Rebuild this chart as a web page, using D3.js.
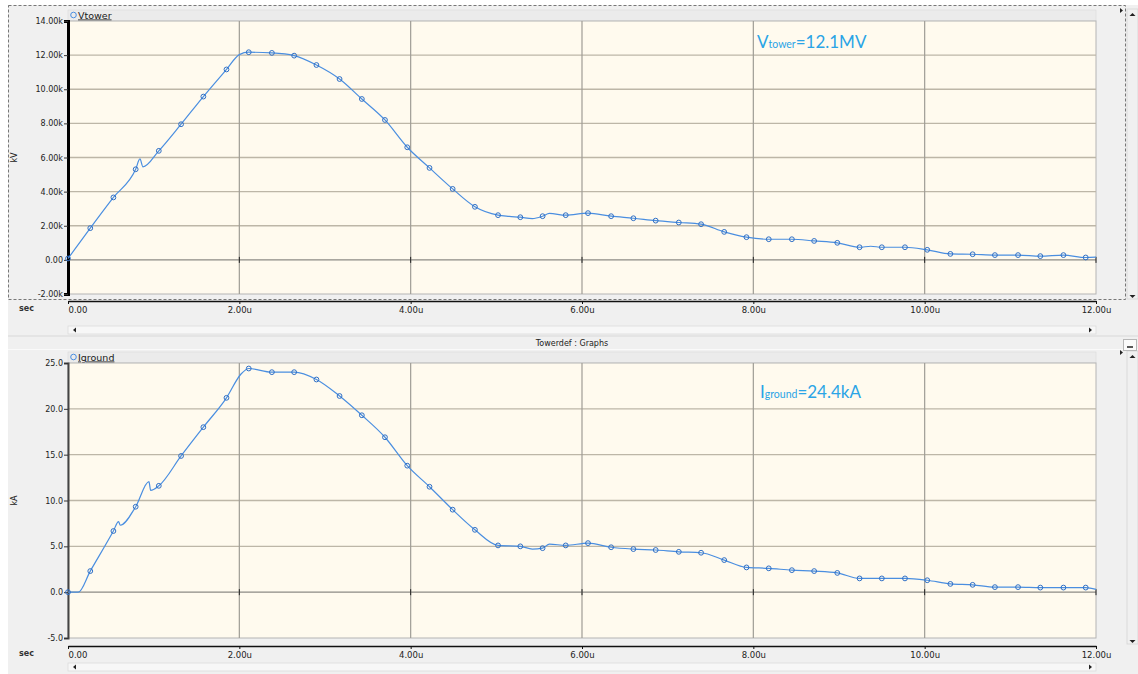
<!DOCTYPE html>
<html>
<head>
<meta charset="utf-8">
<script src="https://cdn.jsdelivr.net/npm/d3@7"></script>
<style>
  html, body { margin: 0; padding: 0; background: #ffffff; }
  svg { display: block; }
</style>
</head>
<body>
<div class="graph"></div>
<script>
// time of each marker (us), same for both traces
const markerT = [0, 0.26, 0.53, 0.79, 1.06, 1.32, 1.58, 1.85, 2.11, 2.38, 2.64, 2.90, 3.17, 3.43, 3.70, 3.96,
  4.22, 4.49, 4.75, 5.02, 5.28, 5.54, 5.81, 6.07, 6.34, 6.60, 6.86, 7.13, 7.39, 7.66, 7.92, 8.18, 8.45,
  8.71, 8.98, 9.24, 9.50, 9.77, 10.03, 10.30, 10.56, 10.82, 11.09, 11.35, 11.62, 11.88]

// Vtower, in k(kV)
const vtowerMarks = [0.08, 1.86, 3.66, 5.31, 6.39, 7.95, 9.57, 11.16, 12.17, 12.13, 11.97, 11.42, 10.60, 9.43,
  8.20, 6.60, 5.39, 4.16, 3.11, 2.62, 2.50, 2.56, 2.62, 2.74, 2.56, 2.44, 2.30, 2.19, 2.09, 1.64, 1.33,
  1.21, 1.21, 1.11, 1.00, 0.74, 0.74, 0.74, 0.59, 0.35, 0.33, 0.28, 0.28, 0.22, 0.28, 0.14]
// extra points of the trace between markers (glitch, corners)
const vtowerExtraT = [0.84, 0.875, 2.0, 5.15, 5.42, 5.62, 9.37, 12.0]
const vtowerExtraV = [5.92, 5.45, 12.03, 2.55, 2.42, 2.72, 0.80, 0.16]

// Iground, in kA
const igroundMarks = [0.0, 2.3, 6.67, 9.32, 11.6, 14.86, 18.0, 21.2, 24.4, 24.0, 24.0, 23.2, 21.4, 19.3, 16.9,
  13.8, 11.5, 9.0, 6.8, 5.1, 5.0, 4.8, 5.1, 5.35, 4.9, 4.7, 4.6, 4.4, 4.3, 3.5, 2.7, 2.6, 2.4, 2.3,
  2.1, 1.5, 1.5, 1.5, 1.3, 0.9, 0.8, 0.55, 0.55, 0.5, 0.5, 0.5]
const igroundExtraT = [0.12, 0.59, 0.61, 0.945, 0.965, 2.02, 5.42, 5.62, 12.0]
const igroundExtraV = [0.0, 7.7, 7.3, 12.05, 11.1, 23.8, 4.7, 5.25, 0.3]

const xTicks = [0, 2, 4, 6, 8, 10, 12]
const xTickLabels = ["0.00", "2.00u", "4.00u", "6.00u", "8.00u", "10.00u", "12.00u"]
const vTicks = [-2, 0, 2, 4, 6, 8, 10, 12, 14]
const vTickLabels = ["-2.00k", "0.00", "2.00k", "4.00k", "6.00k", "8.00k", "10.00k", "12.00k", "14.00k"]
const iTicks = [-5, 0, 5, 10, 15, 20, 25]
const iTickLabels = ["-5.0", "0.0", "5.0", "10.0", "15.0", "20.0", "25.0"]

const width = 1138
const height = 674
const traceColor = "#4a8ee0"
const markColor = "#2f6fc6"
const noteColor = "#2aa4e6"
const uiFont = "DejaVu Sans, Verdana, sans-serif"

const svg = d3.select(".graph").append("svg")
  .attr("width", width)
  .attr("height", height)

// window chrome
svg.append("rect").attr("x", 8).attr("y", 5).attr("width", width - 8).attr("height", height - 5)
  .attr("fill", "#f0f0f0")

function buildPoints(marks, exT, exV) {
  let pts = markerT.map((t, i) => ({t: t, v: marks[i]}))
  exT.forEach((t, i) => pts.push({t: t, v: exV[i]}))
  return pts.sort((a, b) => a.t - b.t)
}

function panel(cfg) {
  const left = 68, right = 1096
  const x = d3.scaleLinear().domain([0, 12]).range([left, right])
  const y = d3.scaleLinear().domain(cfg.domain).range([cfg.bottom, cfg.top])
  const g = svg.append("g")

  // legend strip
  g.append("rect").attr("x", left).attr("y", cfg.top - 11).attr("width", right - left).attr("height", 11)
    .attr("fill", "#ebebeb").attr("stroke", "#dadada").attr("stroke-width", 0.6)
  g.append("circle").attr("cx", left + 5.5).attr("cy", cfg.top - 6).attr("r", 2.8)
    .attr("fill", "none").attr("stroke", traceColor).attr("stroke-width", 1)
  g.append("text").attr("x", left + 10).attr("y", cfg.top - 2.5)
    .attr("font-family", uiFont).attr("font-size", 9.5).attr("fill", "#1a1a1a")
    .attr("text-decoration", "underline")
    .text(cfg.name)

  // plot area
  g.append("rect").attr("x", left).attr("y", cfg.top).attr("width", right - left).attr("height", cfg.bottom - cfg.top)
    .attr("fill", "#fffaee").attr("stroke", "#b4b4b4").attr("stroke-width", 1)

  // grid
  g.append("g").selectAll("line").data(cfg.ticks.filter(d => d !== cfg.domain[0] && d !== cfg.domain[1]))
    .join("line")
    .attr("x1", left).attr("x2", right)
    .attr("y1", d => y(d)).attr("y2", d => y(d))
    .attr("stroke", d => d === 0 ? "#8c8a84" : "#bdb6a7").attr("stroke-width", 1.3)
  g.append("g").selectAll("line").data(xTicks.slice(1, -1))
    .join("line")
    .attr("x1", d => x(d)).attr("x2", d => x(d))
    .attr("y1", cfg.top).attr("y2", cfg.bottom)
    .attr("stroke", "#9f9c95").attr("stroke-width", 1.2)
  // small ticks along the zero line
  g.append("g").selectAll("line").data(xTicks.slice(1))
    .join("line")
    .attr("x1", d => x(d)).attr("x2", d => x(d))
    .attr("y1", y(0) - 3).attr("y2", y(0) + 3)
    .attr("stroke", "#222").attr("stroke-width", 1)

  // y axis
  const yAxis = d3.axisLeft(y).tickValues(cfg.ticks).tickSize(4)
    .tickFormat((d, i) => cfg.tickLabels[i])
  g.append("g").attr("transform", `translate(${left},0)`).call(yAxis)
    .call(a => a.select(".domain").attr("stroke", cfg.axisColor).attr("stroke-width", cfg.axisWidth))
    .call(a => a.selectAll(".tick line").attr("stroke", "#333"))
    .call(a => a.selectAll("text").attr("font-family", uiFont).attr("font-size", 8).attr("fill", "#222")
      .attr("x", -5))
  g.append("text")
    .attr("transform", `translate(17,${(cfg.top + cfg.bottom) / 2}) rotate(-90)`)
    .attr("text-anchor", "middle")
    .attr("font-family", uiFont).attr("font-size", 8).attr("fill", "#222")
    .text(cfg.unit)

  // x axis
  const xAxis = d3.axisBottom(x).tickValues(xTicks).tickSize(3).tickSizeOuter(0)
    .tickFormat((d, i) => xTickLabels[i])
  g.append("g").attr("transform", `translate(0,${cfg.xAxisY})`).call(xAxis)
    .call(a => a.select(".domain").attr("stroke", "#111").attr("stroke-width", 1.5))
    .call(a => a.selectAll(".tick line").attr("stroke", "#111"))
    .call(a => a.selectAll("text").attr("font-family", uiFont).attr("font-size", 8.5).attr("fill", "#222")
      .attr("y", 6))
    .call(a => a.selectAll("text").filter(d => d === 0).attr("text-anchor", "start").attr("dx", 0))
  g.append("text").attr("x", 19).attr("y", cfg.xAxisY + 10)
    .attr("font-family", uiFont).attr("font-size", 8).attr("font-weight", "bold").attr("fill", "#333")
    .text("sec")

  // trace
  const pts = buildPoints(cfg.marks, cfg.exT, cfg.exV)
  const line = d3.line().x(d => x(d.t)).y(d => y(d.v)).curve(d3.curveMonotoneX)
  g.append("path").datum(pts)
    .attr("fill", "none").attr("stroke", traceColor).attr("stroke-width", 1.2)
    .attr("d", line)
  g.append("g").selectAll("circle").data(markerT)
    .join("circle")
    .attr("cx", d => x(d)).attr("cy", (d, i) => y(cfg.marks[i]))
    .attr("r", 2.4)
    .attr("fill", "none").attr("stroke", markColor).attr("stroke-width", 1)

  // annotation
  const note = g.append("text").attr("x", cfg.noteX).attr("y", cfg.noteY)
    .attr("font-family", "Lato, 'Open Sans', sans-serif").attr("fill", noteColor)
  note.append("tspan").attr("font-size", 17).text(cfg.noteMain)
  note.append("tspan").attr("font-size", 10.5).text(cfg.noteSub)
  note.append("tspan").attr("font-size", 17).text(cfg.noteValue)

  // horizontal scrollbar
  const sy = cfg.scrollY
  g.append("rect").attr("x", left).attr("y", sy).attr("width", right - left).attr("height", 8)
    .attr("fill", "#f7f7f7").attr("stroke", "#dcdcdc").attr("stroke-width", 0.8)
  g.append("path").attr("d", `M${left + 5},${sy + 4} l3,-2.5 v5 z`).attr("fill", "#222")
  g.append("path").attr("d", `M${right - 7},${sy + 1.5} l3,2.5 l-3,2.5 z`).attr("fill", "#222")

  // vertical scrollbar
  g.append("rect").attr("x", 1127).attr("y", cfg.top - 12).attr("width", 11).attr("height", cfg.xAxisY - cfg.top + 10)
    .attr("fill", "#f0f0f0").attr("stroke", "#d4d4d4").attr("stroke-width", 0.8)
  g.append("path").attr("d", `M1129.5,${cfg.top - 5} l3,-3 l3,3 z`).attr("fill", "#222")
  g.append("path").attr("d", `M1129.5,${cfg.xAxisY - 6} l3,3 l3,-3 z`).attr("fill", "#222")
  g.append("path").attr("d", `M1120,${cfg.top - 13} l3,2.5 l-3,2.5 z`).attr("fill", "#222")
}

panel({
  name: "Vtower", unit: "kV", domain: [-2, 14], top: 21, bottom: 294, xAxisY: 301,
  ticks: vTicks, tickLabels: vTickLabels, marks: vtowerMarks, exT: vtowerExtraT, exV: vtowerExtraV,
  axisColor: "#000", axisWidth: 3, scrollY: 326,
  noteX: 757, noteY: 48, noteMain: "V", noteSub: "tower", noteValue: "=12.1MV"
})

panel({
  name: "Iground", unit: "kA", domain: [-5, 25], top: 363, bottom: 638, xAxisY: 646,
  ticks: iTicks, tickLabels: iTickLabels, marks: igroundMarks, exT: igroundExtraT, exV: igroundExtraV,
  axisColor: "#444", axisWidth: 2, scrollY: 663,
  noteX: 760, noteY: 398, noteMain: "I", noteSub: "ground", noteValue: "=24.4kA"
})

// dashed frame of the active graph
svg.append("rect").attr("x", 8.5).attr("y", 5.5).attr("width", 1117).attr("height", 294)
  .attr("fill", "none").attr("stroke", "#777").attr("stroke-width", 1).attr("stroke-dasharray", "3,2")

// title bar between the graphs
svg.append("line").attr("x1", 8).attr("x2", width).attr("y1", 336).attr("y2", 336)
  .attr("stroke", "#d8d8d8")
svg.append("line").attr("x1", 8).attr("x2", width).attr("y1", 349.5).attr("y2", 349.5)
  .attr("stroke", "#fafafa")
svg.append("text").attr("x", 572).attr("y", 346).attr("text-anchor", "middle")
  .attr("font-family", uiFont).attr("font-size", 8).attr("fill", "#222")
  .text("Towerdef : Graphs")
svg.append("rect").attr("x", 1123.5).attr("y", 339.5).attr("width", 13).attr("height", 11)
  .attr("fill", "#fbfbfb").attr("stroke", "#b8b8b8")
svg.append("line").attr("x1", 1127).attr("x2", 1133).attr("y1", 347).attr("y2", 347)
  .attr("stroke", "#222").attr("stroke-width", 1.5)
</script>
</body>
</html>
